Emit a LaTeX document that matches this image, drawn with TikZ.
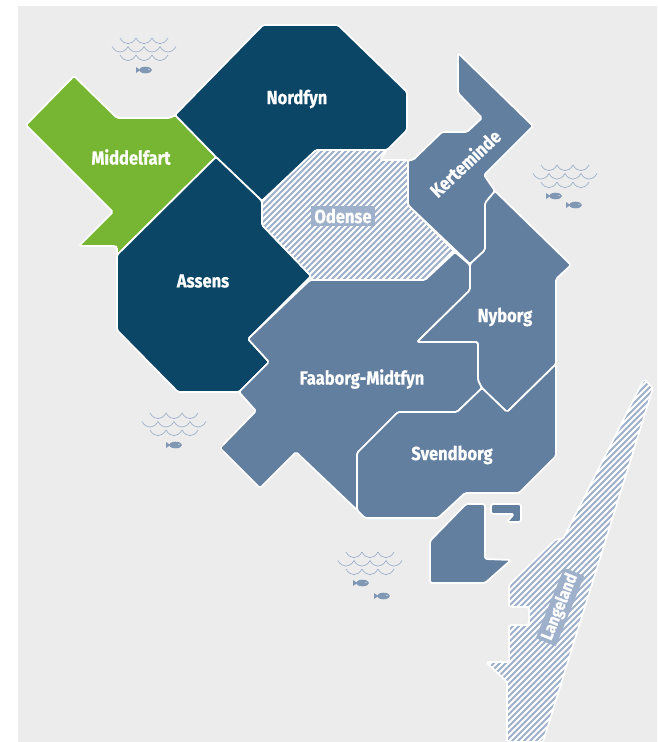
\documentclass[tikz,border=0pt]{standalone}
\usepackage{fontspec}
\setmainfont{Fira Sans}[FakeStretch=0.87,BoldFeatures={FakeBold=0.5}]
\definecolor{seabg}{HTML}{ECECEC}
\definecolor{darkreg}{HTML}{0B4667}
\definecolor{greenreg}{HTML}{77B633}
\definecolor{midreg}{HTML}{637F9F}
\definecolor{lightreg}{HTML}{9FB1CA}
\tikzset{
  region/.style={draw=white,line width=1.7pt,rounded corners=1.6pt,line join=round},
  outline/.style={draw=white,line width=1.7pt,rounded corners=1.6pt,line join=round},
  hatchline/.style={draw=white,line width=1.8pt},
  lab/.style={text=white,font=\fontsize{19}{21}\selectfont\bfseries,inner sep=0pt},
  labbox/.style={lab,fill=lightreg,inner xsep=3pt,inner ysep=2.5pt},
  wave/.style={draw=lightreg,line width=0.7pt},
  waves/.pic={
    \foreach \r/\o/\n in {0/0/3,8.5/-8/4,17/0/3}{
      \foreach \i in {1,...,\n}{
        \draw[wave] ({\o+16*(\i-1)},\r) .. controls ({\o+16*(\i-1)+4},{\r+7.5}) and ({\o+16*\i-4},{\r+7.5}) .. ({\o+16*\i},\r);
      }
    }
  },
  fishy/.pic={
    \fill[midreg!50!lightreg] (1.5,0) ellipse (6.5 and 3.3);
    \fill[midreg!50!lightreg] (-3.5,0) -- (-8,-3) -- (-8,3) -- cycle;
    \fill[seabg] (5,-0.6) circle (0.6);
  }
}
\newcommand{\hatchfill}{%
  \foreach \k in {-140,...,105}{
    \draw[hatchline] ({\k*6},800) -- ({\k*6+810},-10);
  }%
}
\begin{document}
\begin{tikzpicture}[x=1pt,y=-1pt]
\useasboundingbox (0,0) rectangle (657,742);
\fill[seabg] (18,6) rectangle (657,742);

% Middelfart
\path[region,fill=greenreg] (74,76) -- (117,118) -- (170,118) -- (175,115) -- (216,157) -- (117,255) -- (117,247) -- (115,246) -- (79,246) -- (113,212) -- (26,125) -- cycle;
% Nordfyn
\path[region,fill=darkreg] (175,115) -- (263,25) -- (338,25) -- (407,92) -- (407,130) -- (387,150) -- (316,150) -- (262,201) -- (216,157) -- cycle;
% Assens
\path[region,fill=darkreg] (117,255) -- (216,157) -- (262,201) -- (262,225) -- (311,276) -- (248,339) -- (269,362) -- (239,392) -- (178,392) -- (117,330) -- cycle;
% Odense
\fill[lightreg,rounded corners=2pt] (316,150) -- (387,150) -- (380,160) -- (408,160) -- (408,205) -- (455,252) -- (425,280) -- (310,280) -- (311,276) -- (262,225) -- (262,201) -- cycle;
\begin{scope}
  \clip (316,150) -- (387,150) -- (380,160) -- (408,160) -- (408,205) -- (455,252) -- (425,280) -- (310,280) -- (311,276) -- (262,225) -- (262,201) -- cycle;
  \hatchfill
\end{scope}
\path[outline] (316,150) -- (387,150) -- (380,160) -- (408,160) -- (408,205) -- (455,252) -- (425,280) -- (310,280) -- (311,276) -- (262,225) -- (262,201) -- cycle;
% Faaborg-Midtfyn
\path[region,fill=midreg] (310,280) -- (425,280) -- (455,252) -- (470,265) -- (470,290) -- (417,342) -- (478,342) -- (478,380) -- (482,388) -- (457,412) -- (398,412) -- (357,453) -- (357,510) -- (296,452) -- (260,488) -- (220,448) -- (256,411) -- (239,392) -- (269,362) -- (248,339) -- cycle;
% Kerteminde
\path[region,fill=midreg] (458,53) -- (533,126) -- (484,175) -- (495,191) -- (485,203) -- (485,250) -- (470,264) -- (408,205) -- (408,160) -- (413,160) -- (442,132) -- (467,132) -- (482,118) -- (458,93) -- cycle;
% Nyborg
\path[region,fill=midreg] (495,191) -- (571,265) -- (556,279) -- (556,364) -- (507,412) -- (482,388) -- (478,380) -- (478,342) -- (417,342) -- (470,290) -- (470,264) -- (485,250) -- (485,203) -- cycle;
% Svendborg
\path[region,fill=midreg] (357,453) -- (398,412) -- (457,412) -- (482,388) -- (507,412) -- (556,364) -- (556,456) -- (519,493) -- (465,493) -- (438,518) -- (365,518) -- (357,510) -- cycle;
% Islands
\path[region,fill=midreg] (466,504) -- (485,504) -- (485,559) -- (511,560) -- (485,583) -- (430,583) -- (430,541) -- cycle;
\path[region,fill=midreg] (491,504) -- (521,504) -- (521,522) -- (507,522) -- (514,514) -- (491,514) -- cycle;
% Langeland
\fill[lightreg] (644,379) -- (653,388) -- (543,742) -- (507,742) -- (507,682) -- (486,662) -- (509,662) -- (509,625) -- (529,625) -- (529,607) -- (509,607) -- (509,585) -- (556,539) -- (563,539) -- cycle;
\begin{scope}
  \clip (644,379) -- (653,388) -- (543,742) -- (507,742) -- (507,682) -- (486,662) -- (509,662) -- (509,625) -- (529,625) -- (529,607) -- (509,607) -- (509,585) -- (556,539) -- (563,539) -- cycle;
  \hatchfill
\end{scope}
\path[outline] (644,379) -- (653,388) -- (543,742) -- (507,742) -- (507,682) -- (486,662) -- (509,662) -- (509,625) -- (529,625) -- (529,607) -- (509,607) -- (509,585) -- (556,539) -- (563,539) -- cycle;

% Sea marks
\pic at (120,38) {waves};
\pic at (541,165) {waves};
\pic at (150,413) {waves};
\pic at (346,552) {waves};
\pic at (144,70) {fishy};
\pic at (554,196) {fishy};
\pic at (574,205) {fishy};
\pic at (174,445) {fishy};
\pic at (361,583) {fishy};
\pic at (382,596) {fishy};

% Labels
\node[lab] (nordfyn) at (297,99) {Nordfyn};
\node[lab] (middelfart) at (131,157) {Middelfart};
\node[lab] (assens) at (203,281) {Assens};
\node[labbox] (odense) at (343,216) {Odense};
\node[lab,rotate=43] (kerteminde) at (465,163) {Kerteminde};
\node[lab] (faaborg) at (362,379) {Faaborg-Midtfyn};
\node[lab] (nyborg) at (505,317) {Nyborg};
\node[lab] (svendborg) at (452,455) {Svendborg};
\node[labbox,rotate=68,font=\fontsize{17}{19}\selectfont\bfseries] (langeland) at (560,607) {Langeland};
\end{tikzpicture}
\end{document}
